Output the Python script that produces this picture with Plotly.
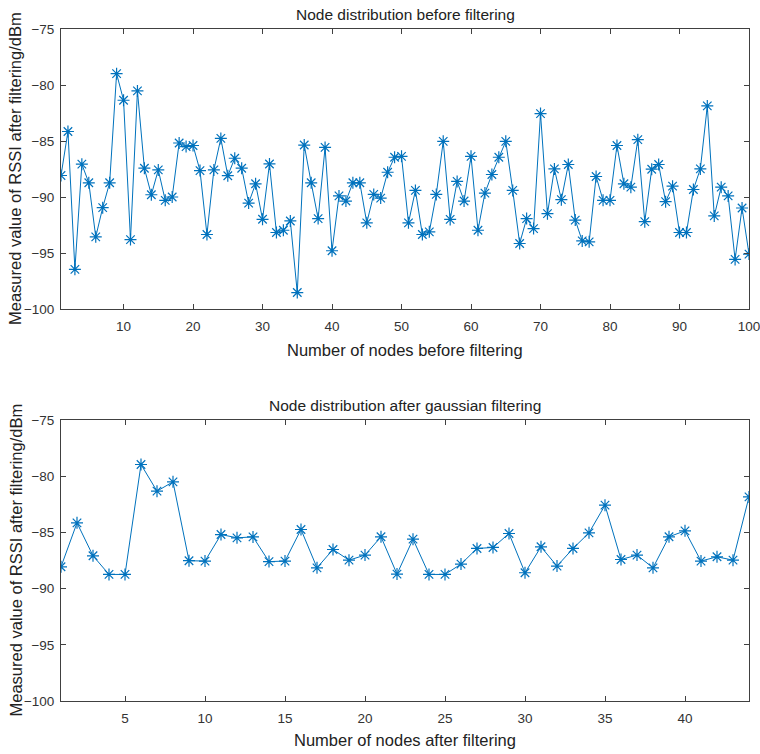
import plotly.graph_objects as go

# Top chart: raw RSSI for nodes 1..100
before_x = list(range(1, 101))
before_y = [
    -88.08, -84.15, -96.46, -87.07, -88.73, -93.56, -90.95, -88.73, -78.99, -81.36,
    -93.80, -80.53, -87.43, -89.80, -87.58, -90.30, -90.00, -85.18, -85.50, -85.40,
    -87.64, -93.35, -87.58, -84.77, -88.10, -86.54, -87.43, -90.54, -88.82, -91.99,
    -87.05, -93.17, -92.97, -92.14, -98.53, -85.36, -88.73, -91.93, -85.57, -94.80,
    -89.90, -90.36, -88.73, -88.73, -92.31, -89.77, -90.10, -87.79, -86.45, -86.37,
    -92.31, -89.41, -93.35, -93.11, -89.77, -85.03, -92.00, -88.61, -90.36, -86.37,
    -92.97, -89.65, -87.99, -86.45, -85.03, -89.41, -94.15, -91.93, -92.82, -82.55,
    -91.49, -87.49, -90.24, -87.10, -92.06, -93.92, -94.00, -88.17, -90.30, -90.30,
    -85.40, -88.82, -89.12, -84.88, -92.20, -87.52, -87.10, -90.42, -89.03, -93.17,
    -93.17, -89.33, -87.49, -81.87, -91.69, -89.12, -89.90, -95.57, -90.98, -95.10,
]

# Bottom chart: RSSI after gaussian filtering, nodes 1..44
after_x = list(range(1, 45))
after_y = [
    -88.06, -84.15, -87.08, -88.74, -88.74, -78.96, -81.33, -80.50, -87.52, -87.55,
    -85.19, -85.48, -85.40, -87.60, -87.55, -84.74, -88.15, -86.52, -87.47, -87.02,
    -85.39, -88.71, -85.60, -88.74, -88.74, -87.82, -86.43, -86.34, -85.10, -88.59,
    -86.28, -88.00, -86.43, -85.04, -82.58, -87.41, -87.02, -88.15, -85.39, -84.86,
    -87.55, -87.17, -87.47, -81.84,
]

y_ticks = [-100, -95, -90, -85, -80, -75]
top_x_ticks = [10, 20, 30, 40, 50, 60, 70, 80, 90, 100]
bottom_x_ticks = [5, 10, 15, 20, 25, 30, 35, 40]

titles = ["Node distribution before filtering", "Node distribution after gaussian filtering"]
x_titles = ["Number of nodes before filtering", "Number of nodes after filtering"]
y_title = "Measured value of RSSI after filtering/dBm"

COLOR = "#0072BD"
FONT = "Liberation Sans, Arial, sans-serif"
W, H = 760, 754

fig = go.Figure()
for xs, ys, xa, ya in [(before_x, before_y, "x", "y"), (after_x, after_y, "x2", "y2")]:
    fig.add_trace(go.Scatter(
        x=xs, y=ys, mode="lines+markers", xaxis=xa, yaxis=ya,
        line=dict(color=COLOR, width=1),
        marker=dict(symbol="asterisk-open", size=10, color=COLOR,
                    line=dict(color=COLOR, width=1.2)),
        showlegend=False,
    ))

xd = [61 / W, 749 / W]
top_d = [1 - 309 / H, 1 - 29 / H]
bot_d = [1 - 701 / H, 1 - 420 / H]

axis_common = dict(
    showline=True, linecolor="#404040", linewidth=1, mirror="ticks",
    ticks="inside", ticklen=5, tickcolor="#404040", showgrid=False, zeroline=False,
    tickfont=dict(family=FONT, size=13.5, color="#333333"),
    ticklabeloverflow="allow", automargin=False,
)

fig.update_layout(
    width=W, height=H,
    margin=dict(l=0, r=0, t=0, b=0, autoexpand=False),
    paper_bgcolor="white", plot_bgcolor="white",
    xaxis=dict(domain=xd, range=[1, 100], tickvals=top_x_ticks, anchor="y",
               ticklabelstandoff=5, **axis_common),
    yaxis=dict(domain=top_d, range=[-100, -75], tickvals=y_ticks, anchor="x",
               ticklabelstandoff=3, **axis_common),
    xaxis2=dict(domain=xd, range=[1, 44], tickvals=bottom_x_ticks, anchor="y2",
                ticklabelstandoff=5, **axis_common),
    yaxis2=dict(domain=bot_d, range=[-100, -75], tickvals=y_ticks, anchor="x2",
                ticklabelstandoff=3, **axis_common),
)

cx = (61 + 749) / 2 / W
ann = []
for t, yc in zip(titles, [15, 405]):
    ann.append(dict(text=t, x=cx, y=1 - yc / H, xref="paper", yref="paper", xanchor="center",
                    yanchor="middle", showarrow=False,
                    font=dict(family=FONT, size=15.5, color="#222222")))
for t, yc in zip(x_titles, [350, 740]):
    ann.append(dict(text=t, x=cx, y=1 - yc / H, xref="paper", yref="paper", xanchor="center",
                    yanchor="middle", showarrow=False,
                    font=dict(family=FONT, size=16.5, color="#222222")))
for dom in [top_d, bot_d]:
    ann.append(dict(text=y_title, x=15 / W, y=(dom[0] + dom[1]) / 2, xref="paper", yref="paper",
                    xanchor="center", yanchor="middle", textangle=-90, showarrow=False,
                    font=dict(family=FONT, size=16.5, color="#222222")))
fig.update_layout(annotations=ann)

fig.write_html("out.html")
